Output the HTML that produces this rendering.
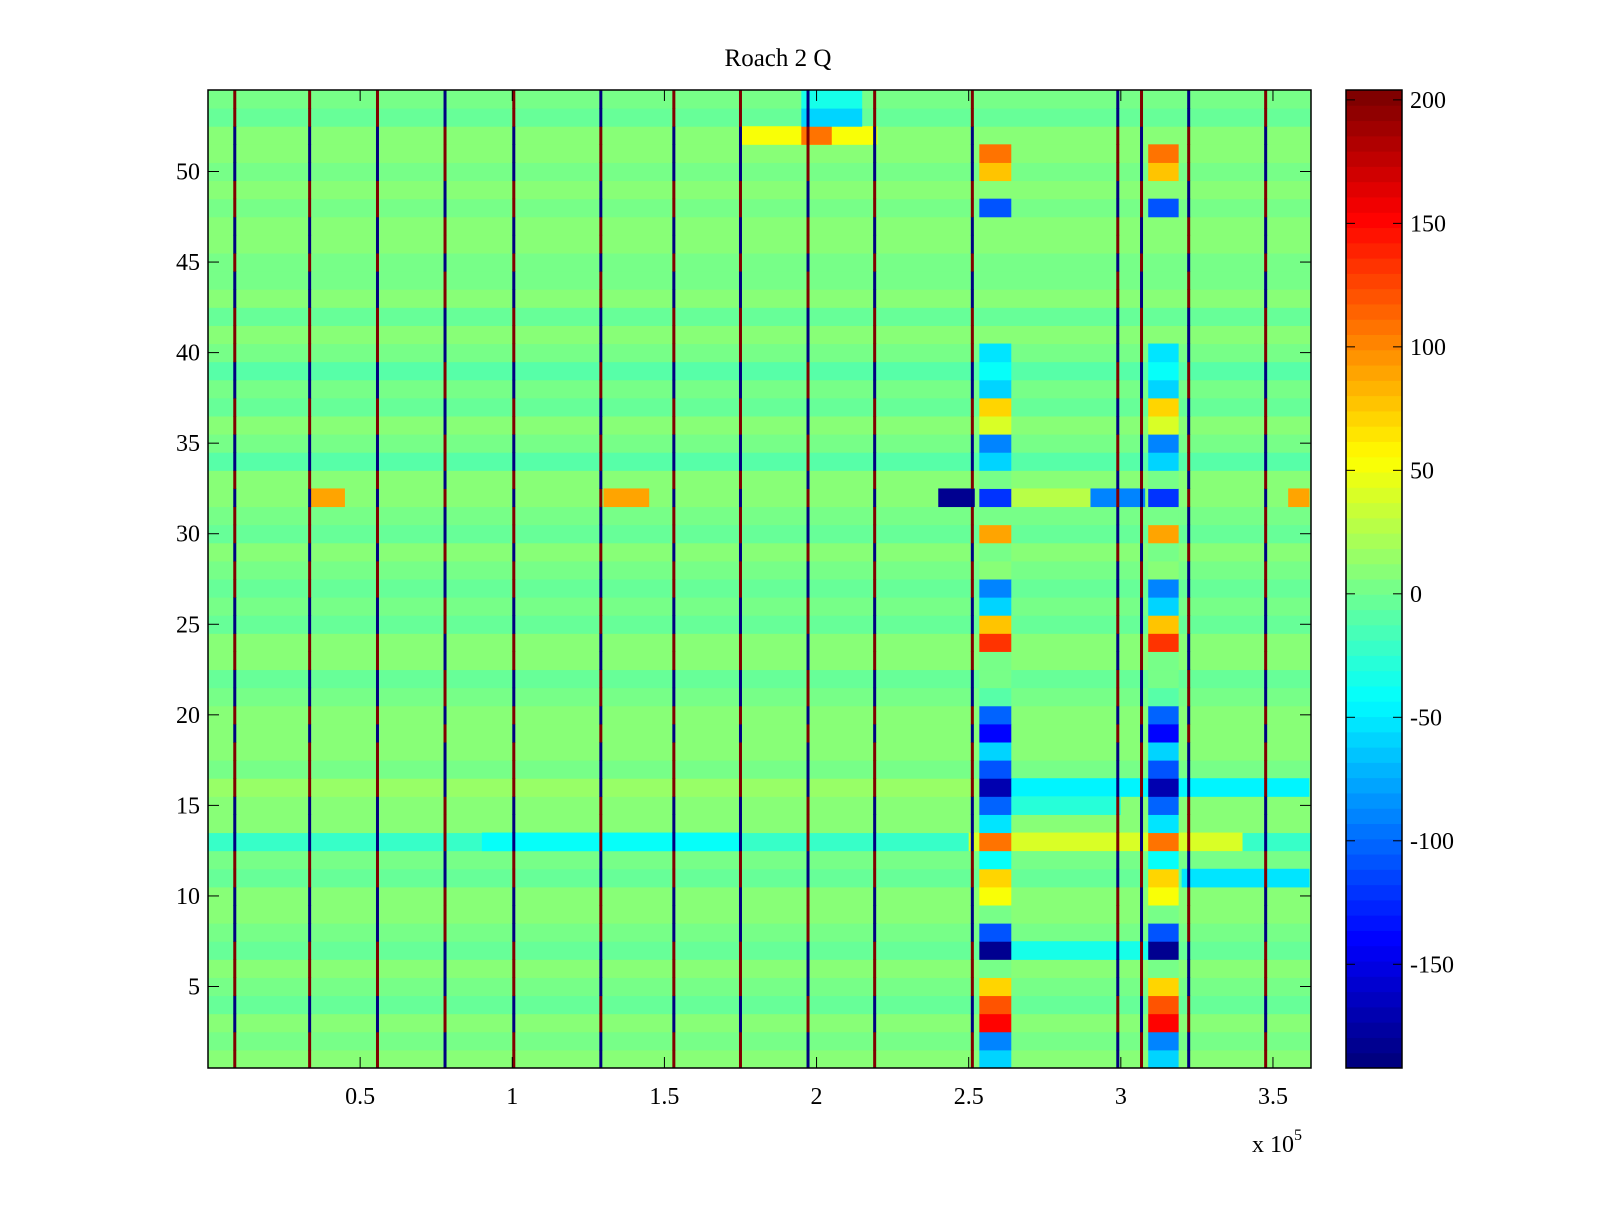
<!DOCTYPE html>
<html><head><meta charset="utf-8"><style>
html,body{margin:0;padding:0;background:#fff;}
svg text{font-family:"Liberation Serif",serif;fill:#000;}
</style></head><body>
<svg id="fig" width="1600" height="1200" xmlns="http://www.w3.org/2000/svg">
<rect width="1600" height="1200" fill="#fff"/>
<text x="778" y="66" font-size="25" text-anchor="middle">Roach 2 Q</text>
<g id="heat"></g>
<rect x="208" y="90" width="1103" height="978" fill="none" stroke="#000" stroke-width="1.5"/>
<g id="axes"></g>
<g id="cbar"></g>
<text x="1252" y="1152" font-size="24">x 10<tspan dy="-12" font-size="16">5</tspan></text>
</svg>
<script>
// ---- data ----
const nRows = 54;
const rowBase = [6,2,8,-4,5,10,-2,4,8,12,-6,3,-20,6,10,14,4,8,6,10,2,-4,6,8,-2,4,-6,2,8,-6,4,10,6,-8,4,8,-6,2,-10,4,6,-2,8,4,2,6,10,4,6,2,8,10,-4,2];
const linePos = [0.088,0.334,0.557,0.779,1.005,1.291,1.531,1.750,1.972,2.191,2.512,2.990,3.068,3.223,3.476];
const lineSign = [1,1,1,-1,1,-1,1,1,-1,1,1,-1,1,-1,1];
const linePattern = [1,1,-1,-1,1,1,1,-1,-1,-1,1,1,-1,-1,-1,1,1,1,-1,1,-1,-1,1,1,-1,-1,1,1,-1,1,1,-1,1,-1,-1,1,1,-1,-1,1,1,1,-1,-1,1,-1,-1,1,1,-1,-1,-1,1,1];
const blockX = [[2.535,2.64],[3.09,3.19]];
const blockRow = [1,2,3,4,5,6,7,8,9,10,11,12,13,14,15,16,17,18,19,20,21,22,23,24,25,26,27,28,29,30,31,32,33,34,35,36,37,38,39,40,48,50,51];
const blockVal = [-60,-90,150,120,70,0,-180,-110,0,50,70,-40,110,-50,-100,-170,-110,-60,-140,-100,-10,0,0,130,80,-60,-90,10,0,90,0,-120,0,-60,-90,40,70,-60,-40,-50,-110,80,110];
const segRow = [32,32,32,32,32,32,32,52,52,53,54,13,13,11,16,7,15,32];
const segX0 = [2.4,2.55,2.9,3.1,0.33,1.3,3.55,1.75,1.95,1.95,1.95,0.9,2.5,3.2,2.6,2.63,2.6,2.6];
const segX1 = [2.52,2.63,3.08,3.17,0.45,1.45,3.62,2.2,2.05,2.15,2.15,1.75,3.4,3.62,3.62,3.1,3.0,2.9];
const segVal = [-185,-90,-90,-150,90,90,90,50,110,-60,-35,-40,40,-55,-45,-35,-30,25];
const cTicks = [-150,-100,-50,0,50,100,150,200];
const xTicks = [0.5,1,1.5,2,2.5,3,3.5];
const yTicks = [5,10,15,20,25,30,35,40,45,50];
// ---- scales ----
const X0=208,X1=1311,XMAX=3.625,Y0=90,Y1=1068,CMIN=-192,CMAX=204;
const xs = v => X0 + v/XMAX*(X1-X0);
const ys = v => Y1 - (v-0.5)/nRows*(Y1-Y0);
function jet(v){
  let t=(v-CMIN)/(CMAX-CMIN); t=Math.max(0,Math.min(1,t));
  t=Math.min(63,Math.floor(t*64))/63;
  const c=a=>Math.round(255*Math.max(0,Math.min(1,1.5-Math.abs(4*t-a))));
  return `rgb(${c(3)},${c(2)},${c(1)})`;
}
const NS='http://www.w3.org/2000/svg';
function mk(tag,attrs,parent){const e=document.createElementNS(NS,tag);for(const k in attrs)e.setAttribute(k,attrs[k]);parent.appendChild(e);return e;}
const heat=document.getElementById('heat');
for(let r=1;r<=nRows;r++){
  const e=mk('rect',{x:X0,y:ys(r+0.5),width:X1-X0,height:ys(r-0.5)-ys(r+0.5)+0.5,fill:jet(rowBase[r-1])},heat);
  
  
}
for(let i=0;i<segRow.length;i++){
  const r=segRow[i];
  const e=mk('rect',{x:xs(segX0[i]),y:ys(r+0.5),width:xs(segX1[i])-xs(segX0[i]),height:ys(r-0.5)-ys(r+0.5)+0.5,fill:jet(segVal[i])},heat);
  
  
}
for(const bx of blockX){
  for(let i=0;i<blockRow.length;i++){
    const r=blockRow[i];
    const e=mk('rect',{x:xs(bx[0]),y:ys(r+0.5),width:xs(bx[1])-xs(bx[0]),height:ys(r-0.5)-ys(r+0.5)+0.5,fill:jet(blockVal[i])},heat);
    
    
  }
}
for(let j=0;j<linePos.length;j++){
  for(let r=1;r<=nRows;r++){
    const s=lineSign[j]*linePattern[r-1];
    const e=mk('rect',{x:xs(linePos[j])-1.5,y:ys(r+0.5),width:3,height:ys(r-0.5)-ys(r+0.5)+0.5,fill:s>0?jet(CMAX-5):jet(CMIN+5)},heat);
    
    
  }
}
const axes=document.getElementById('axes');
for(const t of xTicks){
  const x=xs(t);
  mk('line',{x1:x,y1:Y1,x2:x,y2:Y1-11,stroke:'#000','stroke-width':1},axes);
  mk('line',{x1:x,y1:Y0,x2:x,y2:Y0+11,stroke:'#000','stroke-width':1},axes);
  const e=mk('text',{x:x,y:1104,'font-size':24,'text-anchor':'middle'},axes);
  e.textContent=t;
  
  
}
for(const t of yTicks){
  const y=ys(t);
  mk('line',{x1:X0,y1:y,x2:X0+11,y2:y,stroke:'#000','stroke-width':1},axes);
  mk('line',{x1:X1,y1:y,x2:X1-11,y2:y,stroke:'#000','stroke-width':1},axes);
  const e=mk('text',{x:200,y:y+8,'font-size':24,'text-anchor':'end'},axes);
  e.textContent=t;
  
  
}
const cb=document.getElementById('cbar');
const CX0=1346,CX1=1402;
const cy=v=>Y1-(v-CMIN)/(CMAX-CMIN)*(Y1-Y0);
for(let k=0;k<64;k++){
  const v0=CMIN+k*(CMAX-CMIN)/64, v1=CMIN+(k+1)*(CMAX-CMIN)/64;
  const e=mk('rect',{x:CX0,y:cy(v1),width:CX1-CX0,height:cy(v0)-cy(v1)+0.5,fill:jet((v0+v1)/2)},cb);
  
  
}
mk('rect',{x:CX0,y:Y0,width:CX1-CX0,height:Y1-Y0,fill:'none',stroke:'#000','stroke-width':1.5},cb);
for(const t of cTicks){
  const y=cy(t);
  mk('line',{x1:CX0,y1:y,x2:CX0+9,y2:y,stroke:'#000'},cb);
  mk('line',{x1:CX1,y1:y,x2:CX1-9,y2:y,stroke:'#000'},cb);
  const e=mk('text',{x:1410,y:y+8,'font-size':24},cb);
  e.textContent=t;
  
  
}
</script>
</body></html>
